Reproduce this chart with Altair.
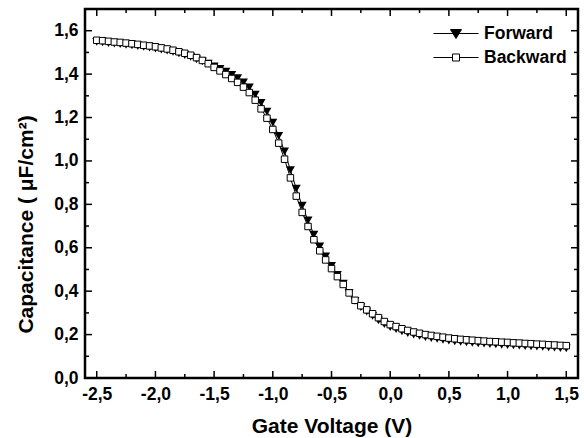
import altair as alt
import pandas as pd

voltage = [-2.50, -2.45, -2.40, -2.35, -2.30, -2.25, -2.20, -2.15, -2.10, -2.05,
           -2.00, -1.95, -1.90, -1.85, -1.80, -1.75, -1.70, -1.65, -1.60, -1.55,
           -1.50, -1.45, -1.40, -1.35, -1.30, -1.25, -1.20, -1.15, -1.10, -1.05,
           -1.00, -0.95, -0.90, -0.85, -0.80, -0.75, -0.70, -0.65, -0.60, -0.55,
           -0.50, -0.45, -0.40, -0.35, -0.30, -0.25, -0.20, -0.15, -0.10, -0.05,
           0.00, 0.05, 0.10, 0.15, 0.20, 0.25, 0.30, 0.35, 0.40, 0.45,
           0.50, 0.55, 0.60, 0.65, 0.70, 0.75, 0.80, 0.85, 0.90, 0.95,
           1.00, 1.05, 1.10, 1.15, 1.20, 1.25, 1.30, 1.35, 1.40, 1.45, 1.50]

forward = [1.548, 1.546, 1.543, 1.540, 1.538, 1.535, 1.532, 1.529, 1.525, 1.522,
           1.518, 1.513, 1.508, 1.502, 1.495, 1.488, 1.479, 1.468, 1.459, 1.448,
           1.436, 1.424, 1.411, 1.396, 1.381, 1.362, 1.339, 1.306, 1.268, 1.227,
           1.177, 1.116, 1.044, 0.958, 0.872, 0.794, 0.726, 0.661, 0.606, 0.560,
           0.516, 0.475, 0.435, 0.392, 0.355, 0.327, 0.306, 0.286, 0.266, 0.248,
           0.234, 0.225, 0.215, 0.207, 0.200, 0.194, 0.188, 0.184, 0.180, 0.176,
           0.172, 0.169, 0.166, 0.164, 0.162, 0.160, 0.158, 0.156, 0.155, 0.153,
           0.152, 0.150, 0.149, 0.147, 0.146, 0.144, 0.143, 0.141, 0.140, 0.138, 0.137]

backward = [1.556, 1.554, 1.551, 1.548, 1.546, 1.543, 1.540, 1.537, 1.533, 1.530,
            1.526, 1.521, 1.516, 1.510, 1.503, 1.496, 1.487, 1.476, 1.463, 1.448,
            1.431, 1.415, 1.398, 1.380, 1.362, 1.340, 1.315, 1.280, 1.240, 1.197,
            1.145, 1.082, 1.008, 0.922, 0.838, 0.763, 0.698, 0.637, 0.586, 0.544,
            0.504, 0.467, 0.431, 0.392, 0.358, 0.333, 0.314, 0.296, 0.278, 0.260,
            0.246, 0.237, 0.227, 0.219, 0.212, 0.206, 0.200, 0.196, 0.192, 0.188,
            0.184, 0.181, 0.178, 0.176, 0.174, 0.172, 0.170, 0.168, 0.167, 0.165,
            0.164, 0.162, 0.161, 0.159, 0.158, 0.156, 0.155, 0.153, 0.152, 0.150, 0.149]

series_names = ["Forward", "Backward"]

x_major = [-2.5, -2.0, -1.5, -1.0, -0.5, 0.0, 0.5, 1.0, 1.5]
x_minor = [-2.25, -1.75, -1.25, -0.75, -0.25, 0.25, 0.75, 1.25]
y_major = [0.0, 0.2, 0.4, 0.6, 0.8, 1.0, 1.2, 1.4, 1.6]
y_minor = [0.1, 0.3, 0.5, 0.7, 0.9, 1.1, 1.3, 1.5]

W, H = 493, 369
FONT = "Liberation Sans"

n = len(voltage)
df = pd.DataFrame({
    "V": voltage + voltage,
    "C": forward + backward,
    "series": [series_names[0]] * n + [series_names[1]] * n,
})

xs = alt.Scale(domain=[-2.6, 1.6], nice=False, zero=False)
ys = alt.Scale(domain=[0, 1.7], nice=False, zero=False)

label_expr = "(datum.value < 0 ? '-' : '') + replace(format(abs(datum.value), '.1f'), '.', ',')"

x_axis = alt.Axis(values=x_major, labelExpr=label_expr, title="Gate Voltage (V)",
                  labelPadding=7, titlePadding=13, labelFlush=False)
y_axis = alt.Axis(values=y_major, labelExpr=label_expr, title="Capacitance ( μF/cm²)",
                  labelPadding=7, titleX=-59, titleY=215, titleAngle=270,
                  titleAlign="center", titleBaseline="middle", labelFlush=False)


def X(field):
    return alt.X(field, scale=xs, axis=x_axis)


def Y(field):
    return alt.Y(field, scale=ys, axis=y_axis)


base = alt.Chart(df)

lines = base.mark_line(color="black", strokeWidth=1).encode(
    x=X("V:Q"), y=Y("C:Q"), detail="series:N",
)

tri = base.transform_filter("datum.series == 'Forward'").mark_point(
    shape="triangle-down", filled=True, color="black", size=80, opacity=1
).encode(x=X("V:Q"), y=Y("C:Q"))

sq = base.transform_filter("datum.series == 'Backward'").mark_point(
    shape="square", filled=True, fill="white", stroke="black", strokeWidth=1, size=42, opacity=1
).encode(x=X("V:Q"), y=Y("C:Q"))

fwd_path = "M-2.25,0H2.25M-0.55,-0.4L0.55,-0.4L0,0.5Z"
bwd_path = "M-2.25,0H-0.35M0.35,0H2.25M-0.35,-0.35H0.35V0.35H-0.35Z"

leg = base.transform_filter("false").mark_point(filled=True, opacity=1, strokeWidth=1).encode(
    x=X("V:Q"),
    y=Y("C:Q"),
    shape=alt.Shape("series:N", scale=alt.Scale(domain=series_names, range=[fwd_path, bwd_path]), title=None),
    fill=alt.Fill("series:N", scale=alt.Scale(domain=series_names, range=["black", "white"]), title=None),
    stroke=alt.Stroke("series:N", scale=alt.Scale(domain=series_names, range=["black", "black"]), title=None),
)


def xticks(vals, length, top):
    d = pd.DataFrame({"V": vals})
    if top:
        yy, yy2 = alt.value(0), alt.value(length)
    else:
        yy, yy2 = alt.value(H), alt.value(H - length)
    return alt.Chart(d).mark_rule(color="black", strokeWidth=1.5).encode(
        x=X("V:Q"), y=yy, y2=yy2)


def yticks(vals, length, right):
    d = pd.DataFrame({"C": vals})
    if right:
        xx, xx2 = alt.value(W), alt.value(W - length)
    else:
        xx, xx2 = alt.value(0), alt.value(length)
    return alt.Chart(d).mark_rule(color="black", strokeWidth=1.5).encode(
        y=Y("C:Q"), x=xx, x2=xx2)


ticks = [
    xticks(x_major, 7, False), xticks(x_minor, 4, False),
    xticks(x_major, 7, True), xticks(x_minor, 4, True),
    yticks(y_major, 7, False), yticks(y_minor, 4, False),
    yticks(y_major, 7, True), yticks(y_minor, 4, True),
]

chart = alt.layer(lines, *ticks, tri, sq, leg).properties(
    width=W, height=H,
    padding={"left": 85, "top": 9, "right": 6, "bottom": 60},
    autosize=alt.AutoSizeParams(type="none"),
).configure_view(
    stroke="black", strokeWidth=2.5
).configure_axis(
    domain=False, ticks=False, tickSize=0, grid=False,
    labelFont=FONT, labelFontWeight="bold", labelFontSize=17.5, labelColor="black",
    titleFont=FONT, titleFontWeight="bold", titleFontSize=21, titleColor="black",
    labelOverlap=False,
).configure_legend(
    orient="none", legendX=360.5, legendY=14, padding=0,
    symbolSize=400, symbolStrokeWidth=1, symbolOpacity=1,
    labelFont=FONT, labelFontWeight="bold", labelFontSize=17.5, labelColor="black",
    labelOffset=17.5, rowPadding=5,
)

chart.save("out.html", embed_options={"renderer": "svg", "actions": False})
